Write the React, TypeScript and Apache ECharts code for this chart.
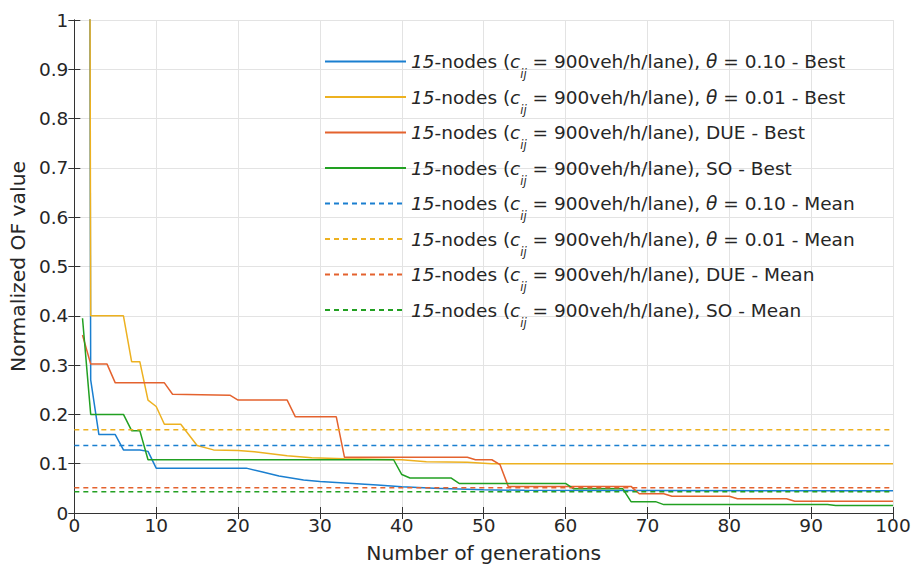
import React, { useEffect, useRef } from 'react';
import * as echarts from 'echarts';

// ---- data ----
// [generation, normalized OF value]
const bestTheta010: [number, number][] = [
  [1, 8], [2, 0.27], [3, 0.159], [5, 0.159], [6, 0.128], [8, 0.128], [9, 0.125], [10, 0.091],
  [21, 0.091], [23, 0.083], [25, 0.075], [28, 0.067], [30, 0.064], [34, 0.06], [37, 0.057],
  [40, 0.053], [44, 0.05], [50, 0.047], [55, 0.046], [100, 0.045],
];
const bestTheta001: [number, number][] = [
  [1, 8], [2, 0.4], [6, 0.4], [7, 0.307], [8, 0.307], [9, 0.229], [10, 0.216], [11, 0.18],
  [13, 0.18], [15, 0.137], [17, 0.128], [20, 0.127], [22, 0.124], [24, 0.12], [26, 0.116],
  [29, 0.112], [33, 0.11], [40, 0.108], [43, 0.104], [48, 0.103], [51, 0.1], [100, 0.1],
];
const bestDUE: [number, number][] = [
  [1, 0.361], [2, 0.302], [4, 0.302], [5, 0.264], [11, 0.264], [12, 0.241], [19, 0.239],
  [20, 0.229], [26, 0.229], [27, 0.195], [32, 0.195], [33, 0.113], [48, 0.113], [49, 0.108],
  [51, 0.108], [52, 0.098], [53, 0.054], [68, 0.054], [69, 0.039], [72, 0.039], [73, 0.034],
  [80, 0.034], [81, 0.029], [87, 0.029], [88, 0.024], [100, 0.024],
];
const bestSO: [number, number][] = [
  [1, 0.395], [2, 0.2], [6, 0.2], [7, 0.167], [8, 0.167], [9, 0.108], [39, 0.108], [40, 0.078],
  [41, 0.071], [46, 0.071], [47, 0.06], [60, 0.06], [61, 0.049], [67, 0.049], [68, 0.023],
  [71, 0.023], [72, 0.017], [92, 0.017], [93, 0.015], [100, 0.015],
];
const meanValues = [0.137, 0.169, 0.051, 0.043];
const meanRange = [0, 100];
const caseLabels = ['θ = 0.10', 'θ = 0.01', 'DUE', 'SO'];
const kinds = ['Best', 'Mean'];
const colors = ['#1a7fd0', '#EDB120', '#E4622E', '#22a022'];
const xTicks = { min: 0, max: 100, interval: 10 };
const yTicks = { min: 0, max: 1, interval: 0.1 };

const FONT = '"DejaVu Sans", "Liberation Sans", Arial, sans-serif';
const TXT = '#262626';

function plainName(ci: number, kind: string) {
  return `15-nodes (cij = 900veh/h/lane), ${caseLabels[ci]} - ${kind}`;
}
function richName(ci: number, kind: string) {
  const head = '{it|15}{n|-nodes (}{it|c}{sub|ij}{n| = 900veh/h/lane), }';
  const lab = caseLabels[ci];
  if (lab.startsWith('θ')) {
    return head + '{it|θ}{n|' + lab.slice(1) + ' - ' + kind + '}';
  }
  return head + '{n|' + lab + ' - ' + kind + '}';
}

export default function App() {
  const ref = useRef<HTMLDivElement>(null);
  useEffect(() => {
    document.body.style.margin = '0';
    if (!ref.current) return;
    const chart = echarts.init(ref.current, undefined, { renderer: 'svg' });
    const bests = [bestTheta010, bestTheta001, bestDUE, bestSO];
    const richMap: Record<string, string> = {};
    const series: any[] = [];
    kinds.forEach((kind) => {
      caseLabels.forEach((_, ci) => {
        const name = plainName(ci, kind);
        richMap[name] = richName(ci, kind);
        const data =
          kind === 'Best'
            ? bests[ci]
            : meanRange.map((x) => [x, meanValues[ci]]);
        series.push({
          name,
          type: 'line',
          data,
          xAxisIndex: 0,
          yAxisIndex: 0,
          symbol: 'none',
          showSymbol: false,
          clip: true,
          lineStyle: {
            color: colors[ci],
            width: 1.5,
            type: kind === 'Best' ? 'solid' : [5, 4],
          },
          itemStyle: { color: colors[ci] },
          emphasis: { disabled: true },
        });
      });
    });

    const axisLine = { show: true, lineStyle: { color: '#333', width: 1 } };
    const axisTick = { show: true, inside: true, length: 6, lineStyle: { color: '#333', width: 1 } };

    chart.setOption({
      animation: false,
      backgroundColor: '#fff',
      grid: { left: 73, right: 21, top: 20, bottom: 57, containLabel: false },
      legend: {
        orient: 'vertical',
        left: 324,
        top: 43,
        padding: 0,
        itemWidth: 81,
        itemHeight: 14,
        itemGap: -1.5,
        selectedMode: false,
        itemStyle: { opacity: 0, borderWidth: 0 },
        data: series.map((s) => s.name),
        formatter: (name: string) => richMap[name] || name,
        textStyle: {
          fontFamily: FONT,
          fontSize: 18.5,
          color: TXT,
          rich: {
            n: { fontFamily: FONT, fontSize: 18.5, color: TXT, lineHeight: 22 },
            it: { fontFamily: FONT, fontSize: 18.5, color: TXT, fontStyle: 'italic', lineHeight: 22 },
            sub: {
              fontFamily: FONT, fontSize: 11.5, color: TXT, fontStyle: 'italic',
              lineHeight: 22, padding: [25, 0, 0, 0],
            },
          },
        },
      },
      xAxis: [
        {
          type: 'value',
          ...xTicks,
          name: 'Number of generations',
          nameLocation: 'middle',
          nameGap: 30,
          nameTextStyle: { fontFamily: FONT, fontSize: 20.3, color: TXT },
          axisLine,
          axisTick,
          axisLabel: { fontFamily: FONT, fontSize: 18.5, color: TXT, margin: 3 },
          splitLine: { show: true, lineStyle: { color: '#e3e3e3', width: 1 } },
        },
        {
          type: 'value',
          ...xTicks,
          position: 'top',
          axisLine,
          axisTick,
          axisLabel: { show: false },
          splitLine: { show: false },
        },
      ],
      yAxis: [
        {
          type: 'value',
          ...yTicks,
          name: 'Normalized OF value',
          nameLocation: 'middle',
          nameGap: 34,
          nameRotate: 90,
          nameTextStyle: { fontFamily: FONT, fontSize: 20.3, color: TXT },
          axisLine,
          axisTick,
          axisLabel: {
            fontFamily: FONT, fontSize: 18.5, color: TXT, margin: 6,
            formatter: (v: number) => String(Math.round(v * 10) / 10),
          },
          splitLine: { show: true, lineStyle: { color: '#e3e3e3', width: 1 } },
        },
        {
          type: 'value',
          ...yTicks,
          position: 'right',
          axisLine,
          axisTick,
          axisLabel: { show: false },
          splitLine: { show: false },
        },
      ],
      series,
    });
    return () => chart.dispose();
  }, []);
  return <div ref={ref} style={{ width: 914, height: 570 }} />;
}
